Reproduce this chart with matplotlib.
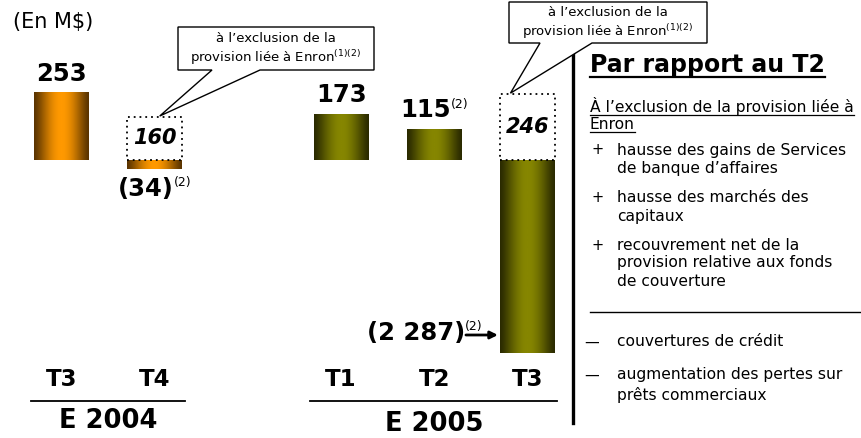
import numpy as np
import matplotlib
matplotlib.use("Agg")
import matplotlib.pyplot as plt
from matplotlib.colors import LinearSegmentedColormap
from matplotlib.patches import Polygon
from matplotlib.lines import Line2D
from matplotlib.transforms import blended_transform_factory

# ---------------- data ----------------
quarters = ["T3", "T4", "T1", "T2", "T3"]
year_labels = ["E 2004", "E 2005"]
group_sizes = [2, 3]
values = [253, -34, 173, 115, -2287]
excl_enron = [np.nan, 160, np.nan, np.nan, 246]
value_labels = ["253", "(34)", "173", "115", "(2 287)"]
value_notes = ["", "(2)", "", "(2)", "(2)"]

unit_label = "(En M$)"
callout_lines = ["à l’exclusion de la", "provision liée à Enron$^{(1)(2)}$"]
panel_title = "Par rapport au T2"
panel_subtitle = ["À l’exclusion de la provision liée à", "Enron"]
plus_items = [["hausse des gains de Services", "de banque d’affaires"],
              ["hausse des marchés des", "capitaux"],
              ["recouvrement net de la", "provision relative aux fonds", "de couverture"]]
minus_items = [["couvertures de crédit"],
               ["augmentation des pertes sur", "prêts commerciaux"]]

# ---------------- layout helpers ----------------
W, H = 862, 438
fig = plt.figure(figsize=(W / 100, H / 100), dpi=100)
fig.patch.set_facecolor("white")
rend = fig.canvas.get_renderer()


def fx(px):
    return px / W


def fy(py):
    return 1 - py / H


positions = []
start = 0
group_of = []
for g, size in enumerate(group_sizes):
    positions += list(range(start, start + size))
    group_of += [g] * size
    start += size + 1

XLIM = (-0.66, 5.478)
YLIM = (-727, 600)
ax = fig.add_axes([0, fy(353), fx(572), 353 / H])
ax.set_xlim(*XLIM)
ax.set_ylim(*YLIM)
ax.axis("off")

bw = 0.59
t = np.linspace(0, 1, 256)
profile = (np.sin(np.pi * t) ** 1.3)[None, :]
cmaps = [LinearSegmentedColormap.from_list("orange", ["#5a3400", "#ff9900"]),
         LinearSegmentedColormap.from_list("olive", ["#2a2a00", "#868600"])]

for p, v, g in zip(positions, values, group_of):
    bar = ax.bar(p, v, width=bw, facecolor="none", edgecolor="none", zorder=2)[0]
    im = ax.imshow(profile, extent=[p - bw / 2, p + bw / 2, min(0, v), max(0, v)],
                   cmap=cmaps[g], vmin=0, vmax=1, aspect="auto",
                   interpolation="bilinear", zorder=2)
    im.set_clip_path(bar.get_path(), bar.get_transform())

ax.set_xlim(*XLIM)
ax.set_ylim(*YLIM)

# dashed boxes (excluding Enron provision)
for p, e in zip(positions, excl_enron):
    if np.isnan(e):
        continue
    ax.bar(p, e, width=bw, facecolor="white", edgecolor="black",
           linestyle=(0, (1, 2.2)), linewidth=1.3, zorder=3)
    ax.text(p, e / 2, f"{e:.0f}", ha="center", va="center", fontsize=15,
            fontweight="bold", style="italic", zorder=4)


def label_note(main, note, xy, xycoords, off, ha, size=17.5, note_size=9):
    m = ax.annotate(main, xy=xy, xycoords=xycoords, xytext=off,
                    textcoords="offset points", ha="left", va="center",
                    fontsize=size, fontweight="bold", annotation_clip=False, zorder=5)
    wm = m.get_window_extent(rend).width
    wn = 0
    n = None
    if note:
        n = ax.annotate(note, xy=xy, xycoords=xycoords, xytext=off,
                        textcoords="offset points", ha="left", va="center",
                        fontsize=note_size, annotation_clip=False, zorder=5)
        wn = n.get_window_extent(rend).width
    total = wm + wn
    s = -total / 2 if ha == "center" else -total
    m.xyann = (off[0] + s * 0.72, off[1])
    if n is not None:
        n.xyann = (off[0] + (s + wm) * 0.72, off[1] + 4.5)


# value labels
ymin = YLIM[0]
for p, v, lab, note in zip(positions, values, value_labels, value_notes):
    if v >= 0:
        label_note(lab, note, (p, v), "data", (0, 13.5), "center")
    elif v > ymin:
        label_note(lab, note, (p, v), "data", (0, -14.5), "center")
    else:
        label_note(lab, note, (p - bw / 2, 0.051), ("data", "axes fraction"),
                   (-12.5, 1.5), "right")
        ax.annotate("", xy=(p - bw / 2, 0.051), xycoords=("data", "axes fraction"),
                    xytext=(-24.5, 0), textcoords="offset points",
                    arrowprops=dict(arrowstyle="-|>", lw=2, color="black",
                                    mutation_scale=11, shrinkA=0, shrinkB=1.5),
                    annotation_clip=False)

# quarter and year labels below
tr = blended_transform_factory(ax.transData, fig.transFigure)
for p, q in zip(positions, quarters):
    fig.text(p, fy(379), q, transform=tr, ha="center", va="center",
             fontsize=16.5, fontweight="bold")
idx = 0
for g, size in enumerate(group_sizes):
    ps = positions[idx:idx + size]
    idx += size
    fig.add_artist(Line2D([ps[0] - 0.33, ps[-1] + 0.32], [fy(401), fy(401)],
                          transform=tr, color="black", lw=1.3))
    fig.text((ps[0] + ps[-1]) / 2, fy(421 if g == 0 else 424), year_labels[g],
             transform=tr, ha="center", va="center", fontsize=18.5, fontweight="bold")

fig.text(fx(13), fy(22), unit_label, ha="left", va="center", fontsize=15)


# callouts
def callout(box, base, tip_data, tip_off_px):
    x0, y0, x1, y1 = box
    tip = ax.transData.transform(tip_data)
    tipf = fig.transFigure.inverted().transform((tip[0] + tip_off_px[0], tip[1] + tip_off_px[1]))
    pts = [(fx(x0), fy(y0)), (fx(x1), fy(y0)), (fx(x1), fy(y1)), (fx(base[1]), fy(y1)),
           tuple(tipf), (fx(base[0]), fy(y1)), (fx(x0), fy(y1))]
    fig.add_artist(Polygon(pts, closed=True, transform=fig.transFigure,
                           facecolor="white", edgecolor="black", lw=1.0, zorder=5))
    fig.text(fx((x0 + x1) / 2), fy((y0 + y1) / 2 + 1), "\n".join(callout_lines),
             ha="center", va="center", fontsize=9.5, linespacing=1.2, zorder=6)


callout((178, 27, 374, 70), (212, 260), (positions[1], excl_enron[1]), (5, 1))
callout((509, 2, 707, 43), (540, 592), (positions[4], excl_enron[4]), (-17, 1))

# separator
fig.add_artist(Line2D([fx(573), fx(573)], [fy(53), fy(423)], color="black", lw=2.4))


def underline(txt, ypx, lw):
    bb = txt.get_window_extent(rend)
    fig.add_artist(Line2D([bb.x0 / W, bb.x1 / W], [fy(ypx), fy(ypx)],
                          color="black", lw=lw))


FS = 11.2
tt = fig.text(fx(590), fy(72), panel_title, ha="left", va="baseline",
              fontsize=17, fontweight="bold")
underline(tt, 76.5, 1.6)
for line, yb in zip(panel_subtitle, [112, 129]):
    st = fig.text(fx(590), fy(yb), line, ha="left", va="baseline", fontsize=FS)
    underline(st, yb + 3, 0.9)

plus_y = [[150, 168], [198, 216], [245, 263, 282]]
for item, ys in zip(plus_items, plus_y):
    fig.text(fx(598), fy(ys[0]), "+", ha="center", va="center", fontsize=10.5)
    for line, yy in zip(item, ys):
        fig.text(fx(617), fy(yy), line, ha="left", va="center", fontsize=FS)

fig.add_artist(Line2D([fx(590), fx(862)], [fy(312), fy(312)], color="black", lw=1.0))

minus_y = [[342], [375, 395]]
for item, ys in zip(minus_items, minus_y):
    fig.text(fx(592), fy(ys[0]), "—", ha="center", va="center", fontsize=10.5)
    for line, yy in zip(item, ys):
        fig.text(fx(617), fy(yy), line, ha="left", va="center", fontsize=FS)

fig.savefig("out.png", dpi=100, facecolor="white")
